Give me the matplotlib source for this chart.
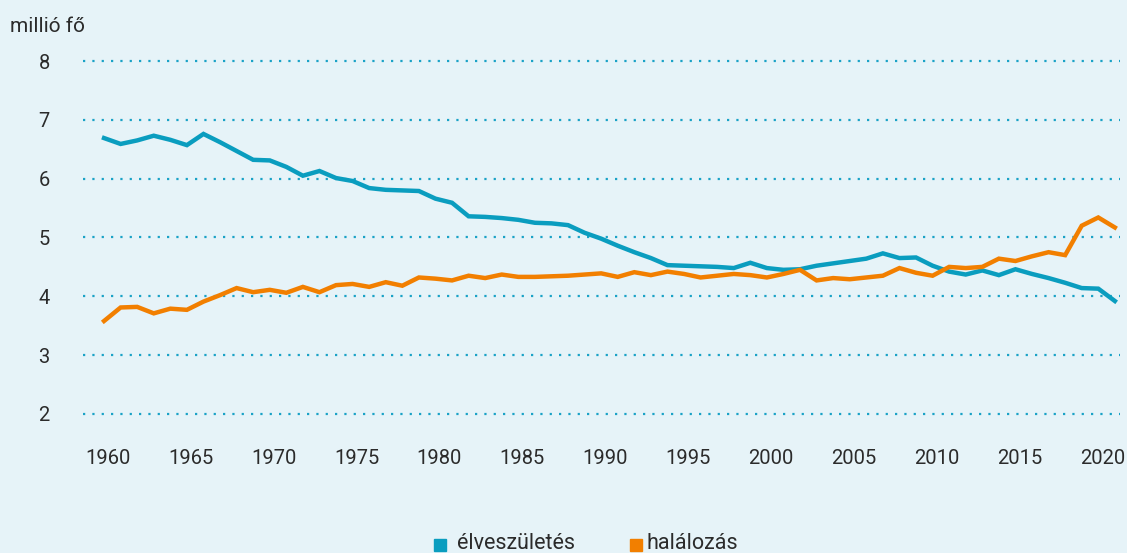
import matplotlib
matplotlib.use("Agg")
import matplotlib.pyplot as plt
from matplotlib.patches import Rectangle
from matplotlib.transforms import ScaledTranslation

years = list(range(1960, 2022))
births = [6.69, 6.59, 6.65, 6.73, 6.66, 6.57, 6.76, 6.62, 6.47, 6.32,
          6.31, 6.20, 6.05, 6.13, 6.01, 5.96, 5.84, 5.81, 5.80, 5.79,
          5.66, 5.59, 5.36, 5.35, 5.33, 5.30, 5.25, 5.24, 5.21, 5.08,
          4.98, 4.86, 4.75, 4.65, 4.53, 4.52, 4.51, 4.50, 4.48, 4.57,
          4.48, 4.45, 4.46, 4.52, 4.56, 4.60, 4.64, 4.73, 4.65, 4.66,
          4.52, 4.42, 4.37, 4.44, 4.36, 4.46, 4.38, 4.31, 4.23, 4.14,
          4.13, 3.92]
deaths = [3.58, 3.81, 3.82, 3.71, 3.79, 3.77, 3.91, 4.02, 4.14, 4.07,
          4.11, 4.06, 4.16, 4.07, 4.19, 4.21, 4.16, 4.24, 4.18, 4.32,
          4.30, 4.27, 4.35, 4.31, 4.37, 4.33, 4.33, 4.34, 4.35, 4.37,
          4.39, 4.33, 4.41, 4.36, 4.42, 4.38, 4.32, 4.35, 4.38, 4.36,
          4.32, 4.38, 4.45, 4.27, 4.31, 4.29, 4.32, 4.35, 4.48, 4.40,
          4.35, 4.50, 4.48, 4.50, 4.64, 4.60, 4.68, 4.75, 4.70, 5.20,
          5.34, 5.17]
series_names = ["élveszületés", "halálozás"]
y_ticks = [2, 3, 4, 5, 6, 7, 8]
x_ticks = [1960, 1965, 1970, 1975, 1980, 1985, 1990, 1995, 2000, 2005, 2010, 2015, 2020]
y_unit = "millió fő"

BG = "#E6F3F8"
BLUE = "#0A9DBF"
ORANGE = "#F27F00"
TXT = "#2B2B2B"
GRID = "#1AA2C6"

plt.rcParams['font.family'] = ['Roboto', 'DejaVu Sans']

W, H = 1127, 553
fig = plt.figure(figsize=(W / 100, H / 100), dpi=100, facecolor=BG)
ax = fig.add_axes([83 / W, 1 - 416.9 / H, 1037 / W, (416.9 - 58.06) / H])
ax.set_facecolor(BG)

ax.plot(years, births, color=BLUE, lw=3.2, solid_joinstyle='miter', zorder=3)
ax.plot(years, deaths, color=ORANGE, lw=3.2, solid_joinstyle='miter', zorder=3)

ax.set_xlim(1958.73, 2021.31)
ax.set_ylim(1.95, 8.05)
ax.set_yticks(y_ticks)
ax.set_xticks(x_ticks)
ax.set_yticklabels([str(v) for v in y_ticks], fontsize=14.5, color=TXT)
ax.set_xticklabels([str(v) for v in x_ticks], fontsize=14.5, color=TXT)
ax.tick_params(axis='both', length=0)
ax.tick_params(axis='y', pad=28)
ax.tick_params(axis='x', pad=23)
for lbl in ax.get_yticklabels():
    lbl.set_horizontalalignment('center')
shift = ScaledTranslation(4 / 100, 0, fig.dpi_scale_trans)
for lbl in ax.get_xticklabels():
    lbl.set_transform(lbl.get_transform() + shift)
ax.grid(axis='y', color=GRID, linestyle=(0, (1, 3.2)), linewidth=1.6)
ax.grid(axis='x', visible=False)
for s in ax.spines.values():
    s.set_visible(False)

fig.text(10 / W, 1 - 32 / H, y_unit, fontsize=15, color=TXT, ha='left', va='baseline')

# legend
sq = 12
fig.patches.append(Rectangle((434 / W, 1 - 551 / H), sq / W, sq / H,
                             transform=fig.transFigure, color=BLUE, figure=fig))
fig.text(457 / W, 1 - 549 / H, series_names[0], fontsize=15.5, color=TXT, ha='left', va='baseline')
fig.patches.append(Rectangle((630 / W, 1 - 551 / H), sq / W, sq / H,
                             transform=fig.transFigure, color=ORANGE, figure=fig))
fig.text(647 / W, 1 - 549 / H, series_names[1], fontsize=15.5, color=TXT, ha='left', va='baseline')

fig.savefig("out.png", dpi=100, facecolor=BG)
